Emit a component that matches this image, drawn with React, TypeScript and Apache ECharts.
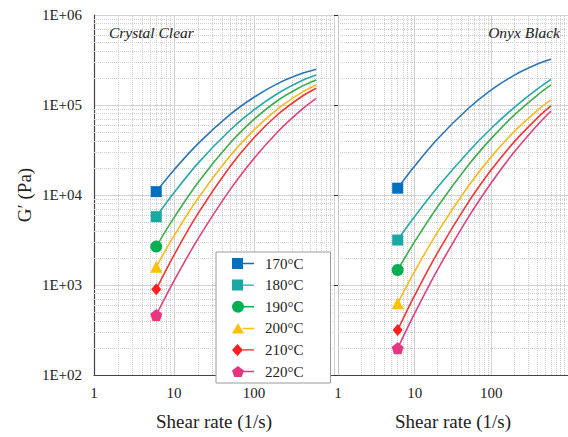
import React, { useEffect, useRef } from 'react';
import * as echarts from 'echarts';

// ---- data ----
const SHEAR_RATE = [6, 10, 20, 50, 100, 200, 400, 600];
const TEMPS = ['170°C', '180°C', '190°C', '200°C', '210°C', '220°C'];

const CC_170 = [10900, 19000, 37200, 78000, 122000, 174000, 225000, 250000];
const CC_180 = [5740, 10600, 22600, 52400, 88300, 135000, 187000, 215000];
const CC_190 = [2670, 5600, 13800, 37500, 69100, 113000, 162000, 190000];
const CC_200 = [1600, 3520, 9220, 27100, 53000, 91300, 139000, 167000];
const CC_210 = [896, 2150, 6240, 20600, 43300, 78900, 125000, 153500];
const CC_220 = [464, 1110, 3270, 11400, 25500, 50800, 89800, 118600];

const OB_170 = [11900, 21000, 42200, 91400, 147000, 215000, 285000, 322000];
const OB_180 = [3160, 5760, 12300, 30100, 55100, 94300, 151000, 193000];
const OB_190 = [1470, 3030, 7460, 21400, 42600, 77700, 129000, 167000];
const OB_200 = [627, 1420, 3890, 12500, 26700, 51000, 87300, 113800];
const OB_210 = [316, 765, 2300, 8270, 19050, 39200, 72000, 97500];
const OB_220 = [198, 483, 1490, 5630, 13700, 30200, 60000, 85700];

const X_TICKS = [1, 10, 100, 1000];
const X_TICK_LABELS = ['1', '10', '100', '1000'];
const Y_TICKS = [100, 1000, 10000, 100000, 1000000];
const Y_TICK_LABELS = ['1E+02', '1E+03', '1E+04', '1E+05', '1E+06'];
const MINOR_STEPS = [2, 3, 4, 5, 6, 7, 8, 9];
const X_DECADES = [1, 10, 100];
const Y_DECADES = [100, 1000, 10000, 100000];

const PANELS = ['Crystal Clear', 'Onyx Black'];

// ---- styling ----
const FONT = "'Liberation Serif', 'Times New Roman', serif";
const MARKER_COLORS = ['#0070C0', '#1AA8A4', '#00B050', '#FFC000', '#FF1F1F', '#E83580'];
const LINE_COLORS = ['#2C75B4', '#26A8AA', '#3CAE4C', '#F7BA1E', '#F23535', '#E0407E'];
const PENTAGON = 'path://M6,0.5L12,4.9L9.7,11.5H2.3L0,4.9Z';
const PLOT_SYMBOLS = ['rect', 'rect', 'circle', 'triangle', 'diamond', PENTAGON];
const PLOT_SIZES = [11, 11, 12, 12, [10, 12], 12];
const LEGEND_ICONS = [
  'path://M0,0.5h11v11h-11z M11,5.3h11v1.4h-11z',
  'path://M0,0.5h11v11h-11z M11,5.3h11v1.4h-11z',
  'path://M0,6a6,6 0 1,1 12,0a6,6 0 1,1 -12,0z M12,5.3h10v1.4h-10z',
  'path://M6,0.5L12,11H0z M11,5.3h11v1.4h-11z',
  'path://M5.5,0L11,6L5.5,12L0,6z M11,5.3h11v1.4h-11z',
  'path://M6,0.5L12,4.9L9.7,11.5H2.3L0,4.9z M11.5,5.3h10.5v1.4h-10.5z',
];

const CC = [CC_170, CC_180, CC_190, CC_200, CC_210, CC_220];
const OB = [OB_170, OB_180, OB_190, OB_200, OB_210, OB_220];

function labelFor(ticks: number[], labels: string[]) {
  return (v: number) => {
    const i = ticks.findIndex((t) => Math.abs(t - v) / t < 1e-6);
    return i >= 0 ? labels[i] : '';
  };
}

function buildOption() {
  const minorX: number[] = [];
  X_DECADES.forEach((d) => MINOR_STEPS.forEach((s) => minorX.push(d * s)));
  const minorY: number[] = [];
  Y_DECADES.forEach((d) => MINOR_STEPS.forEach((s) => minorY.push(d * s)));

  const grids = [
    { left: 94, top: 15, width: 240, height: 360 },
    { left: 338, top: 15, width: 240, height: 360 },
  ];

  const splitLine = { show: true, lineStyle: { color: '#d2d2d2', width: 1 } };

  const xAxes = [0, 1].map((g) => ({
    type: 'log',
    logBase: 10,
    gridIndex: g,
    min: 1,
    max: 1000,
    name: 'Shear rate (1/s)',
    nameLocation: 'middle',
    nameGap: 37,
    nameTextStyle: { fontFamily: FONT, fontSize: 19, color: '#222' },
    axisLine: { show: true, lineStyle: { color: '#444', width: 1.2 } },
    axisTick: { show: false },
    axisLabel: {
      fontFamily: FONT,
      fontSize: 15,
      color: '#222',
      margin: 10,
      showMaxLabel: false,
      formatter: labelFor(X_TICKS, X_TICK_LABELS),
    },
    splitLine,
  }));

  const yAxes = [0, 1].map((g) => ({
    type: 'log',
    logBase: 10,
    gridIndex: g,
    min: 100,
    max: 1000000,
    name: g === 0 ? 'G′ (Pa)' : '',
    nameLocation: 'middle',
    nameGap: 60,
    nameTextStyle: { fontFamily: FONT, fontSize: 19, color: '#222' },
    axisLine: {
      show: true,
      lineStyle: { color: g === 0 ? '#444' : '#c4c4c4', width: g === 0 ? 1.2 : 1 },
    },
    axisTick: { show: g === 1, length: 4, lineStyle: { color: '#333' } },
    axisLabel: {
      show: g === 0,
      fontFamily: FONT,
      fontSize: 15,
      color: '#222',
      margin: 12,
      formatter: labelFor(Y_TICKS, Y_TICK_LABELS),
    },
    splitLine,
  }));

  const series: any[] = [];
  [0, 1].forEach((g) => {
    series.push({
      type: 'line',
      name: 'grid-minor-' + g,
      xAxisIndex: g,
      yAxisIndex: g,
      data: [],
      silent: true,
      z: 1,
      markLine: {
        silent: true,
        z: 1,
        symbol: ['none', 'none'],
        label: { show: false },
        emphasis: { disabled: true },
        lineStyle: { type: 'dotted', color: '#cfcfcf', width: 1 },
        data: [
          ...minorX.map((v) => ({ xAxis: v })),
          ...minorY.map((v) => ({ yAxis: v })),
        ],
      },
    });
    const sets = g === 0 ? CC : OB;
    sets.forEach((vals, i) => {
      series.push({
        type: 'line',
        name: TEMPS[i],
        xAxisIndex: g,
        yAxisIndex: g,
        z: 3,
        smooth: 0.35,
        symbol: PLOT_SYMBOLS[i],
        symbolSize: (_v: any, p: any) => (p.dataIndex === 0 ? PLOT_SIZES[i] : 0),
        showSymbol: true,
        itemStyle: { color: MARKER_COLORS[i] },
        lineStyle: { color: LINE_COLORS[i], width: 1.6 },
        emphasis: { disabled: true },
        data: SHEAR_RATE.map((x, k) => [x, vals[k]]),
      });
    });
  });

  return {
    animation: false,
    backgroundColor: '#ffffff',
    textStyle: { fontFamily: FONT },
    title: [
      {
        text: PANELS[0],
        left: 109,
        top: 24,
        padding: 0,
        textStyle: { fontFamily: FONT, fontStyle: 'italic', fontWeight: 'normal', fontSize: 15.5, color: '#222' },
      },
      {
        text: PANELS[1],
        right: 8,
        top: 24,
        padding: 0,
        textStyle: { fontFamily: FONT, fontStyle: 'italic', fontWeight: 'normal', fontSize: 15.5, color: '#222' },
      },
    ],
    legend: {
      orient: 'vertical',
      left: 216,
      top: 252,
      padding: [4, 27, 4, 16],
      itemWidth: 22,
      itemHeight: 12,
      itemGap: 6.6,
      backgroundColor: '#ffffff',
      borderColor: '#9a9a9a',
      borderWidth: 1,
      borderRadius: 0,
      z: 10,
      selectedMode: false,
      textStyle: { fontFamily: FONT, fontSize: 15, color: '#222', padding: [0, 0, 0, 6] },
      data: TEMPS.map((t, i) => ({ name: t, icon: LEGEND_ICONS[i] })),
    },
    grid: grids,
    xAxis: xAxes,
    yAxis: yAxes,
    series,
  };
}

export default function App() {
  const ref = useRef<HTMLDivElement>(null);
  useEffect(() => {
    if (!ref.current) return;
    const chart = echarts.init(ref.current, null, { renderer: 'svg' });
    chart.setOption(buildOption() as any);
    return () => chart.dispose();
  }, []);
  return (
    <div
      ref={ref}
      style={{ position: 'fixed', left: 0, top: 0, width: 568, height: 437, background: '#fff' }}
    />
  );
}
